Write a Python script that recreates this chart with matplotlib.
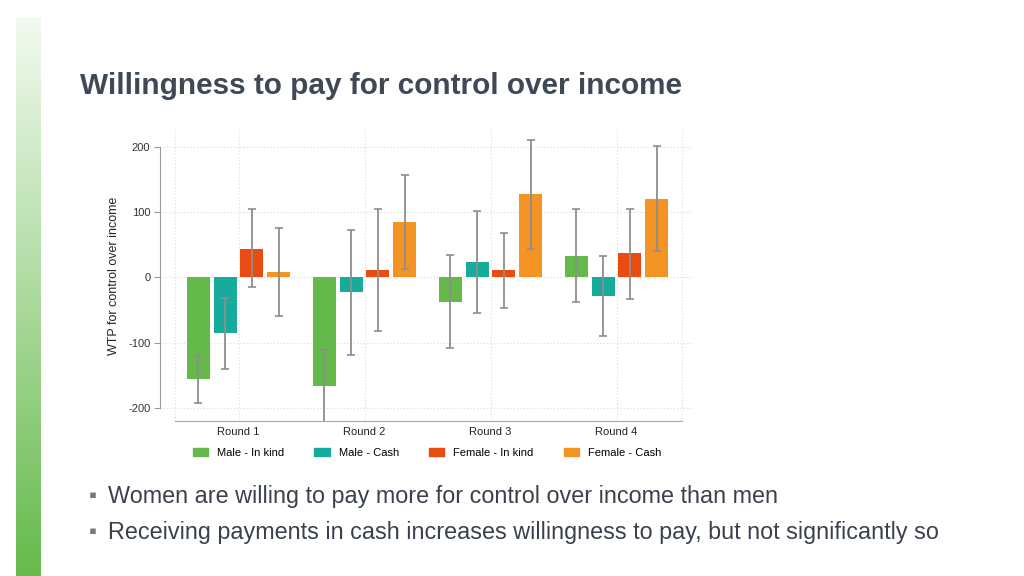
import numpy as np
import matplotlib
matplotlib.use("Agg")
import matplotlib.pyplot as plt
from matplotlib.patches import Patch

plt.rcParams['font.family'] = ['Liberation Sans', 'DejaVu Sans']

rounds = ["Round 1", "Round 2", "Round 3", "Round 4"]
series = ["Male - In kind", "Male - Cash", "Female - In kind", "Female - Cash"]
colors = ["#64b94a", "#16ab9b", "#e94b10", "#f49425"]

# WTP means per series (rows) for each round (columns)
male_inkind = [-156, -166, -38, 33]
male_cash = [-86, -23, 23, -28]
female_inkind = [44, 11, 11, 37]
female_cash = [8, 84, 127, 120]
values = [male_inkind, male_cash, female_inkind, female_cash]

# confidence intervals (low, high)
male_inkind_lo = [-192, -226, -109, -38]
male_inkind_hi = [-120, -111, 34, 104]
male_cash_lo = [-140, -119, -54, -90]
male_cash_hi = [-31, 73, 102, 33]
female_inkind_lo = [-15, -82, -47, -33]
female_inkind_hi = [104, 104, 68, 105]
female_cash_lo = [-60, 13, 44, 40]
female_cash_hi = [76, 157, 211, 201]
lows = [male_inkind_lo, male_cash_lo, female_inkind_lo, female_cash_lo]
highs = [male_inkind_hi, male_cash_hi, female_inkind_hi, female_cash_hi]

yticks = [-200, -100, 0, 100, 200]

W, H = 1024, 576
fig = plt.figure(figsize=(W / 100, H / 100), dpi=100)
fig.patch.set_facecolor("white")

# left gradient bar
gax = fig.add_axes([16 / W, 0, 25 / W, 1 - 18 / H])
grad = np.linspace(0, 1, 256)[:, None]
c_top = np.array([0.95, 0.98, 0.94])
c_bot = np.array([0.40, 0.73, 0.30])
img = c_top[None, None, :] * (1 - grad[:, :, None]) + c_bot[None, None, :] * grad[:, :, None]
gax.imshow(img, aspect="auto", extent=[0, 1, 0, 1])
gax.axis("off")

# title
fig.text(80 / W, 1 - 86 / H, "Willingness to pay for control over income",
         fontsize=21.4, fontweight="bold", color="#3f4955", va="center", ha="left")

# main axes: px = 238.5 + 126*x ; py = 277.3 - 0.6525*y
ax_l, ax_r, ax_t, ax_b = 160, 692, 130, 421
ax = fig.add_axes([ax_l / W, 1 - ax_b / H, (ax_r - ax_l) / W, (ax_b - ax_t) / H])
x0 = (ax_l - 238.5) / 126
x1 = (ax_r - 238.5) / 126
ylo = -(ax_b - 277.3) / 0.6525
yhi = (277.3 - ax_t) / 0.6525
ax.set_xlim(x0, x1)
ax.set_ylim(ylo, yhi)

grid_kw = dict(color="#d8d8d8", linestyle=(0, (1, 2)), linewidth=0.8, zorder=0)
for yt in yticks:
    ax.axhline(yt, **grid_kw)
gx = [(175 - 238.5) / 126] + list(range(len(rounds))) + [(682 - 238.5) / 126]
for g in gx:
    ax.axvline(g, **grid_kw)

xs = np.arange(len(rounds))
step = 0.212
bw = 0.183
for i, (vals, lo, hi, col) in enumerate(zip(values, lows, highs, colors)):
    pos = xs + (i - 1.5) * step
    ax.bar(pos, vals, width=bw, color=col, zorder=2, label=series[i])
    vals = np.array(vals)
    yerr = np.array([vals - np.array(lo), np.array(hi) - vals])
    ax.errorbar(pos, vals, yerr=yerr, fmt="none", ecolor="#8e8e8e",
                elinewidth=1.3, capsize=3, capthick=1.2, zorder=3)

for s in ["top", "right"]:
    ax.spines[s].set_visible(False)
ax.spines["left"].set_bounds(-200, 200)
ax.spines["left"].set_color("#9a9a9a")
ax.spines["bottom"].set_bounds((175 - 238.5) / 126, (682 - 238.5) / 126)
ax.spines["bottom"].set_color("#a8a8a8")
ax.set_yticks(yticks)
ax.set_yticklabels([str(v) for v in yticks], fontsize=8, color="#333333")
ax.tick_params(axis="y", length=4, color="#9a9a9a", pad=3)
ax.set_xticks(xs)
ax.set_xticklabels(rounds, fontsize=8, color="#222222")
ax.tick_params(axis="x", length=0, pad=4)
ax.set_ylabel("WTP for control over income", fontsize=9, color="#222222", labelpad=6)

handles = [Patch(color=c) for c in colors]
fig.legend(handles, series, loc="center", bbox_to_anchor=(427 / W, 1 - 453 / H),
           ncol=4, frameon=False, fontsize=8, handlelength=1.4, handleheight=0.7,
           columnspacing=2.7, handletextpad=0.8)

# bullets
bullets = ["Women are willing to pay more for control over income than men",
           "Receiving payments in cash increases willingness to pay, but not significantly so"]
for yb, txt in zip([497, 533], bullets):
    fig.text(93 / W, 1 - yb / H, "\u25aa", fontsize=16, color="#7a7a7a", va="center", ha="center")
    fig.text(108 / W, 1 - yb / H, txt, fontsize=16.8, color="#3a414c", va="center", ha="left")

fig.savefig("out.png", dpi=100)
